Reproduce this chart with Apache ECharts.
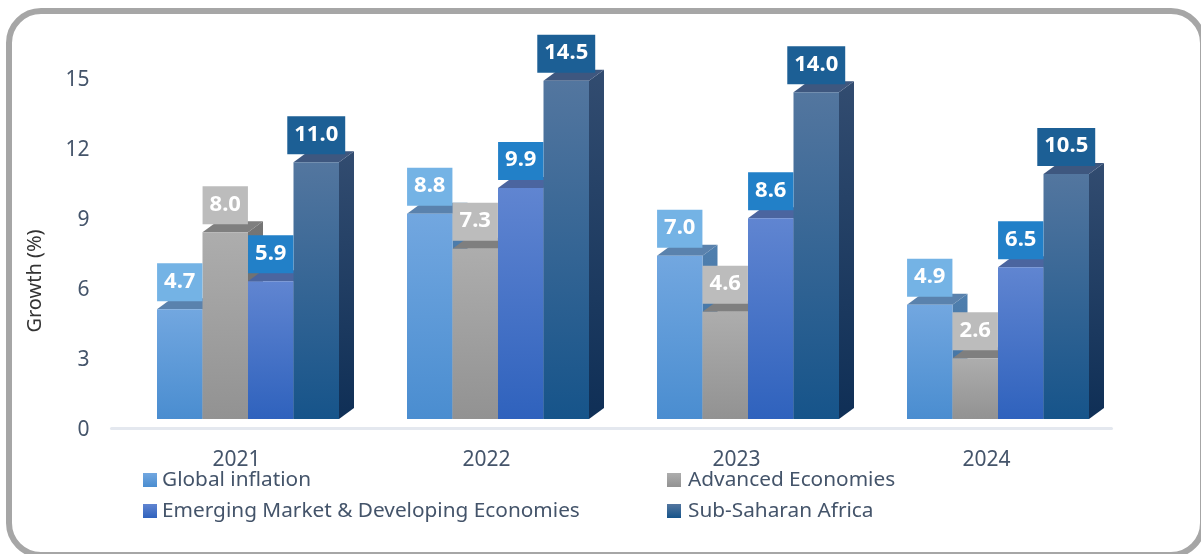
<!DOCTYPE html>
<html>
<head>
<meta charset="utf-8">
<style>
html, body { margin: 0; padding: 0; background: #fff; }
#chart { width: 1201px; height: 554px; }
</style>
<script src="https://cdn.jsdelivr.net/npm/echarts@6/dist/echarts.min.js"></script>
</head>
<body>
<div id="chart"></div>
<script>
var years = ['2021', '2022', '2023', '2024'];
var seriesNames = ['Global inflation', 'Advanced Economies', 'Emerging Market & Developing Economies', 'Sub-Saharan Africa'];
var globalInflation = [4.7, 8.8, 7.0, 4.9];
var advancedEconomies = [8.0, 7.3, 4.6, 2.6];
var emergingMarkets = [5.9, 9.9, 8.6, 6.5];
var subSaharanAfrica = [11.0, 14.5, 14.0, 10.5];

var textColor = '#44546a';
var font = '"Noto Sans", sans-serif';

// front gradient top/bottom, roof, side top/bottom, label box
var looks = [
    { front: ['#72a7e0', '#4a8dd0'], roof: '#5a82ad', side: ['#4f7fae', '#3f6f9f'], box: '#74b3e5' },
    { front: ['#adadad', '#929292'], roof: '#7f7f7f', side: ['#757575', '#6a6a6a'], box: '#bcbcbc' },
    { front: ['#6085d1', '#2f62bd'], roof: '#4b659f', side: ['#3f5a94', '#25498f'], box: '#2280c8' },
    { front: ['#53769f', '#16548a'], roof: '#3e577f', side: ['#324c70', '#0f2f56'], box: '#1c5f95' }
];

function vgrad(c) {
    return new echarts.graphic.LinearGradient(0, 0, 0, 1, [
        { offset: 0, color: c[0] },
        { offset: 1, color: c[1] }
    ]);
}

var barW = 45.5, depthX = 15, depthY = 11, shiftX = 11.5, shiftY = 9;

function bar3d(idx, look) {
    return function (params, api) {
        var base = api.coord([api.value(0), 0]);
        var top = api.coord([api.value(0), api.value(1)]);
        var x0 = base[0] + shiftX - barW * 2 + idx * barW;
        var x1 = x0 + barW;
        var y0 = base[1] - shiftY;
        var y1 = top[1] - shiftY;
        return {
            type: 'group',
            children: [
                {
                    type: 'polygon',
                    shape: { points: [[x1, y1], [x1 + depthX, y1 - depthY], [x1 + depthX, y0 - depthY], [x1, y0]] },
                    style: { fill: vgrad(look.side) }
                },
                {
                    type: 'polygon',
                    shape: { points: [[x0, y1], [x1, y1], [x1 + depthX, y1 - depthY], [x0 + depthX, y1 - depthY]] },
                    style: { fill: look.roof }
                },
                {
                    type: 'rect',
                    shape: { x: x0, y: y1, width: barW, height: y0 - y1 },
                    style: { fill: vgrad(look.front) }
                },
                {
                    type: 'text',
                    z2: 50,
                    style: {
                        x: x0 + barW / 2,
                        y: y1 - 8,
                        text: api.value(1).toFixed(1),
                        align: 'center',
                        verticalAlign: 'bottom',
                        fill: '#fff',
                        font: 'bold 22px ' + font,
                        backgroundColor: look.box,
                        padding: [7, 7, 9, 7]
                    }
                }
            ]
        };
    };
}

var values = [globalInflation, advancedEconomies, emergingMarkets, subSaharanAfrica];
var series = seriesNames.map(function (name, i) {
    return {
        name: name,
        type: 'custom',
        renderItem: bar3d(i, looks[i]),
        encode: { x: 0, y: 1 },
        itemStyle: { color: vgrad(looks[i].front) },
        data: years.map(function (y, k) { return [k, values[i][k]]; })
    };
});

var legendText = { color: textColor, fontSize: 20.8, fontFamily: font, lineHeight: 22 };

var myChart = echarts.init(document.getElementById('chart'), null, { renderer: 'canvas' });
var option = {
    animation: false,
    backgroundColor: '#fff',
    graphic: [{
        type: 'rect',
        silent: true,
        z: -1,
        shape: { x: 9, y: 11, width: 1194, height: 544, r: 32 },
        style: { fill: '#fff', stroke: '#a6a6a6', lineWidth: 6 }
    }],
    grid: { left: 111.5, width: 1000, top: 78, height: 350 },
    legend: [
        {
            left: 143, top: 469, orient: 'vertical', padding: 0, itemGap: 9, itemWidth: 14, itemHeight: 14, icon: 'rect',
            textStyle: legendText, data: [seriesNames[0], seriesNames[2]]
        },
        {
            left: 667, top: 469, orient: 'vertical', padding: 0, itemGap: 9, itemWidth: 14, itemHeight: 14, icon: 'rect',
            textStyle: Object.assign({}, legendText, { padding: [0, 0, 0, 2] }), data: [seriesNames[1], seriesNames[3]]
        }
    ],
    xAxis: {
        type: 'category',
        data: years,
        axisTick: { show: false },
        axisLine: { lineStyle: { color: '#e4e8ef', width: 3 } },
        axisLabel: { color: textColor, fontSize: 21, fontFamily: font, margin: 22 }
    },
    yAxis: {
        type: 'value',
        min: 0,
        max: 15,
        interval: 3,
        name: 'Growth (%)',
        nameLocation: 'middle',
        nameGap: 66,
        nameRotate: 90,
        nameTextStyle: { color: '#333', fontSize: 20, fontFamily: font, padding: [0, 56, 0, 0] },
        axisLine: { show: false },
        axisTick: { show: false },
        splitLine: { show: false },
        // short line box with top align nudges the numbers down onto their tick height
        axisLabel: { color: textColor, fontSize: 21, fontFamily: font, margin: 22, verticalAlign: 'top', lineHeight: 4 }
    },
    series: series
};
myChart.setOption(option);
</script>
</body>
</html>
